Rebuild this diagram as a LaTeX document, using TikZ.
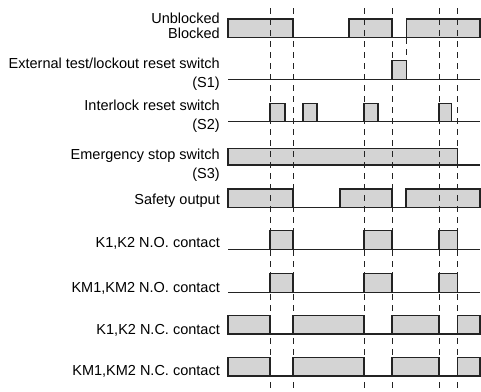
\documentclass[tikz,border=0pt]{standalone}
\usepackage{fontspec}
\setmainfont{Liberation Sans}
\usepackage{tikz}
\usetikzlibrary{positioning}

\definecolor{wavefill}{RGB}{212,212,212}
\definecolor{waveline}{RGB}{35,35,35}

\begin{document}
\begin{tikzpicture}[x=1pt, y=-1pt,
    lbl/.style={anchor=base east, inner sep=0pt, font=\fontsize{14.5}{17}\selectfont},
    wave/.style={draw=waveline, line width=1.2pt},
    pulse/.style={wave, fill=wavefill},
    guide/.style={draw=waveline, line width=0.9pt, dash pattern=on 6pt off 5pt}]

\useasboundingbox (0,0) rectangle (481,391);

% Beschriftungen
\node[lbl] (ub)   at (220,23.5)  {Unblocked};
\node[lbl] (bl)   at (220,38)    {Blocked};
\node[lbl] (ext)  at (220,68)    {External test/lockout reset switch};
\node[lbl] (sA)   at (220,87)    {(S1)};
\node[lbl] (ilk)  at (220,110)   {Interlock reset switch};
\node[lbl] (sB)   at (220,129.5) {(S2)};
\node[lbl] (emg)  at (220,159.5) {Emergency stop switch};
\node[lbl] (sC)   at (220,178)   {(S3)};
\node[lbl] (safe) at (220,204.5) {Safety output};
\node[lbl] (kno)  at (220,247)   {K1,K2 N.O. contact};
\node[lbl] (kmno) at (220,292.5) {KM1,KM2 N.O. contact};
\node[lbl] (knc)  at (220,334)   {K1,K2 N.C. contact};
\node[lbl] (kmnc) at (220,375.5) {KM1,KM2 N.C. contact};

% Unblocked / Blocked
\begin{scope}[shift={(0,37.5)}]
    \draw[wave] (228,0) -- (480,0);
    \foreach \a/\b in {228/293, 349/392, 406.5/480}
        \draw[pulse] (\a,0) rectangle (\b,-18.5);
\end{scope}

% S1
\begin{scope}[shift={(0,79.5)}]
    \draw[wave] (228,0) -- (480,0);
    \draw[pulse] (392,0) rectangle (406.5,-18.8);
\end{scope}

% S2
\begin{scope}[shift={(0,121.7)}]
    \draw[wave] (228,0) -- (480,0);
    \foreach \a/\b in {270/285, 303/317, 364/378, 439/451.5}
        \draw[pulse] (\a,0) rectangle (\b,-18.4);
\end{scope}

% S3
\begin{scope}[shift={(0,165)}]
    \draw[wave] (228,0) -- (480,0);
    \draw[pulse] (228,0) rectangle (457.5,-16.8);
\end{scope}

% Sicherheitsausgang
\begin{scope}[shift={(0,207.3)}]
    \draw[wave] (228,0) -- (480,0);
    \foreach \a/\b in {228/293, 340/392, 406/480}
        \draw[pulse] (\a,0) rectangle (\b,-18.3);
\end{scope}

% Schliesser
\foreach \y in {249.3, 292.3} {
    \draw[wave] (228,\y) -- (480,\y);
    \foreach \a/\b in {270/293, 364/392, 439/457.5}
        \draw[pulse] (\a,\y) rectangle (\b,\y-18.6);
}

% Oeffner
\foreach \y in {334, 376} {
    \draw[wave] (228,\y) -- (480,\y);
    \foreach \a/\b in {228/270, 293/364, 392/439, 457.5/480}
        \draw[pulse] (\a,\y) rectangle (\b,\y-18.5);
}

% Hilfslinien
\foreach \x in {270, 293, 364, 392, 439, 457.5}
    \draw[guide] (\x,8) -- (\x,389);
\draw[guide] (406.5,38) -- (406.5,61);

\end{tikzpicture}
\end{document}
